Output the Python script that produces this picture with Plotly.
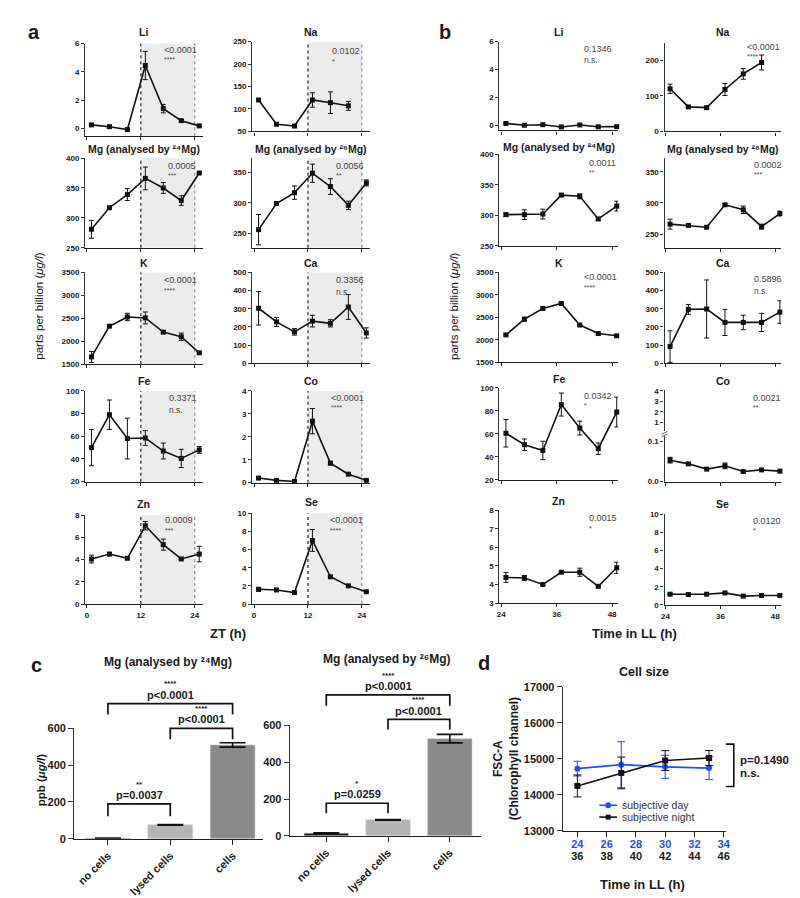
import plotly.graph_objects as go

W, H = 800, 898
FONT = "Liberation Sans, Arial, Helvetica, sans-serif"
BLUE = "#1f4cff"

# ---------------- data: panel a (ZT, LD cycle) ----------------
zt_hours = [1, 5, 9, 13, 17, 21, 25]
a_li = [0.25, 0.12, -0.08, 4.45, 1.40, 0.55, 0.18]
a_li_err = [0.05, 0.12, 0.03, 1.00, 0.30, 0.08, 0.05]
a_na = [120, 66, 62, 120, 114, 107]
a_na_err = [3, 2, 2, 16, 24, 10]
a_mg24 = [281, 317, 339, 366, 350, 329, 375]
a_mg24_err = [15, 2, 10, 19, 9, 8, 2]
a_mg26 = [256, 299, 317, 349, 327, 296, 333]
a_mg26_err = [25, 3, 11, 15, 13, 7, 5]
a_k = [1660, 2330, 2530, 2510, 2200, 2100, 1750]
a_k_err = [120, 20, 80, 130, 25, 80, 20]
a_ca = [303, 228, 173, 232, 220, 310, 167]
a_ca_err = [92, 25, 18, 32, 20, 68, 28]
a_fe = [50, 79, 58, 58.5, 47, 40.5, 48]
a_fe_err = [16, 13, 18, 6.5, 7, 8, 3]
a_co = [0.20, 0.10, 0.05, 2.68, 0.85, 0.37, 0.10]
a_co_err = [0.03, 0.02, 0.02, 0.55, 0.08, 0.03, 0.02]
a_zn = [4.05, 4.50, 4.12, 7.05, 5.35, 4.06, 4.50]
a_zn_err = [0.35, 0.15, 0.10, 0.38, 0.50, 0.05, 0.70]
a_se = [1.62, 1.55, 1.26, 7.00, 3.00, 2.00, 1.35]
a_se_err = [0.20, 0.05, 0.05, 1.20, 0.10, 0.10, 0.05]
a_pvalues = ["<0.0001", "0.0102", "0.0005", "0.0056", "<0.0001",
             "0.3356", "0.3371", "<0.0001", "0.0009", "<0.0001"]
a_stars = ["****", "*", "***", "**", "****", "n.s.", "n.s.", "****", "***", "****"]

# ---------------- data: panel b (time in LL) ----------------
ll_hours = [25, 29, 33, 37, 41, 45, 49]
b_li = [0.15, 0.02, 0.06, -0.10, 0.04, -0.09, -0.08]
b_li_err = [0.03, 0.02, 0.02, 0.02, 0.02, 0.02, 0.02]
b_na = [120, 69, 67, 118, 162, 194]
b_na_err = [13, 3, 3, 17, 15, 21]
b_mg24 = [301, 301, 302, 333, 331, 294, 315]
b_mg24_err = [3, 8, 8, 2, 4, 2, 8]
b_mg26 = [266, 264, 261, 297, 289, 262, 283]
b_mg26_err = [8, 2, 2, 2, 6, 4, 4]
b_k = [2110, 2460, 2700, 2810, 2330, 2140, 2090]
b_k_err = [20, 40, 30, 20, 10, 30, 20]
b_ca = [92, 297, 299, 225, 225, 225, 282]
b_ca_err = [87, 27, 160, 72, 40, 50, 62]
b_fe = [60.5, 50.5, 45.5, 85.5, 65, 47, 79]
b_fe_err = [12, 5, 8, 10, 6, 5, 13]
b_co = [0.053, 0.044, 0.031, 0.039, 0.025, 0.029, 0.026]
b_co_err = [0.007, 0.001, 0.001, 0.007, 0.001, 0.001, 0.001]
b_zn = [4.38, 4.35, 4.00, 4.66, 4.66, 3.90, 4.90]
b_zn_err = [0.27, 0.13, 0.03, 0.03, 0.22, 0.05, 0.30]
b_se = [1.19, 1.15, 1.19, 1.33, 0.98, 1.05, 1.05]
b_se_err = [0.05, 0.05, 0.05, 0.05, 0.05, 0.05, 0.05]
b_pvalues = ["0.1346", "<0.0001", "0.0011", "0.0002", "<0.0001",
             "0.5896", "0.0342", "0.0021", "0.0015", "0.0120"]
b_stars = ["n.s.", "****", "**", "***", "****", "n.s.", "*", "**", "*", "*"]

# ---------------- data: panel c ----------------
c_categories = ["no cells", "lysed cells", "cells"]
c_mg24 = [3, 76, 510]
c_mg24_err = [1, 2, 12]
c_mg26 = [14, 87, 528]
c_mg26_err = [3, 2, 23]
c_mg24_tests = [("p=0.0037", "**"), ("p<0.0001", "****"), ("p<0.0001", "****")]
c_mg26_tests = [("p=0.0259", "*"), ("p<0.0001", "****"), ("p<0.0001", "****")]

# ---------------- data: panel d ----------------
d_time = [24, 27, 30, 33]
d_day = [14730, 14840, 14780, 14745]
d_day_err = [205, 640, 320, 320]
d_night = [14250, 14610, 14955, 15025]
d_night_err = [305, 440, 275, 210]
d_tick_day = [24, 26, 28, 30, 32, 34]
d_tick_night = [36, 38, 40, 42, 44, 46]
d_yticks = [13000, 14000, 15000, 16000, 17000]
d_yticktext = ["13000", "14000", "15000", "16000", "17000"]

# ---------------- helpers ----------------
layout = dict(width=W, height=H, margin=dict(l=0, r=0, t=0, b=0), autosize=False,
              paper_bgcolor="white", plot_bgcolor="rgba(0,0,0,0)", showlegend=False,
              font=dict(family=FONT, color="#1a1a1a"))
ann, shp, traces = [], [], []
count = [0]


def X(px):
    return px / W


def Y(py):
    return 1 - py / H


def txt(x, y, s, size, bold=False, color="#1a1a1a", xanchor="center", yanchor="middle", angle=0):
    ann.append(dict(x=X(x), y=Y(y), xref="paper", yref="paper", text=s, showarrow=False,
                    font=dict(family=FONT, size=size, color=color, weight="bold" if bold else "normal"),
                    xanchor=xanchor, yanchor=yanchor, textangle=angle, borderpad=0))


def ptext(x, y, pval, stars):
    txt(x, y - 1, pval, 9, color="#444", xanchor="left")
    if stars == "n.s.":
        txt(x, y + 11, stars, 8.5, color="#444", xanchor="left")
    else:
        txt(x, y + 9, stars, 7, color="#444", xanchor="left")


def make_axes(xdom, ydom, xr, yr, xticks, yticks, xlabels=False, yticktext=None, xticktext=None,
              xvisible=True, tsize=8, ticklen=3, xangle=0, xcolor="#1a1a1a", xstandoff=None):
    count[0] += 1
    i = count[0]
    s = "" if i == 1 else str(i)
    tf = dict(family=FONT, size=tsize, color="#1a1a1a", weight="bold")
    xa = dict(domain=[X(xdom[0]), X(xdom[1])], range=xr, anchor="y" + s, showline=True,
              linecolor="#222", linewidth=1.3, ticks="outside", ticklen=ticklen, tickwidth=1.1,
              tickcolor="#222", tickvals=xticks, showticklabels=xlabels,
              tickfont=dict(family=FONT, size=tsize, color=xcolor, weight="bold"),
              showgrid=False, zeroline=False, visible=xvisible, fixedrange=True, tickangle=xangle)
    if xticktext is not None:
        xa["ticktext"] = xticktext
    if xstandoff is not None:
        xa["ticklabelstandoff"] = xstandoff
    ya = dict(domain=[Y(ydom[1]), Y(ydom[0])], range=yr, anchor="x" + s, showline=True,
              linecolor="#333", linewidth=1.3, ticks="outside", ticklen=ticklen, tickwidth=1.1,
              tickcolor="#333", tickvals=yticks, tickfont=tf, showgrid=False, zeroline=False,
              fixedrange=True)
    if yticktext is not None:
        ya["ticktext"] = yticktext
    layout["xaxis" + s] = xa
    layout["yaxis" + s] = ya
    return "x" + s, "y" + s


def line_trace(xa, ya, xs, ys, err, color="#111", symbol="square", size=5, cap=2.5):
    traces.append(go.Scatter(x=xs, y=ys, xaxis=xa, yaxis=ya, mode="lines+markers",
                             line=dict(color=color, width=1.6),
                             marker=dict(symbol=symbol, size=size, color=color),
                             error_y=dict(type="data", array=err, visible=True, color=color,
                                          thickness=1, width=cap),
                             cliponaxis=False, hoverinfo="skip", showlegend=False))


MG24 = "Mg (analysed by \u00b2\u2074Mg)"
MG26 = "Mg (analysed by \u00b2\u2076Mg)"

# ---------------- panel a ----------------
a_cols = {0: [74, 193], 1: [243, 362]}
a_xr = [-0.4, 25.8]
a_specs = [
    ("Li", zt_hours, a_li, a_li_err, 0, [30, 124], [-0.56, 6], [0, 2, 4, 6], 18, (153, 37)),
    ("Na", zt_hours[:6], a_na, a_na_err, 1, [28, 119], [50, 250], [50, 100, 150, 200, 250], 18, (323, 39)),
    (MG24, zt_hours, a_mg24, a_mg24_err, 0, [146, 237], [250, 400], [250, 300, 350, 400], 137, (157, 155)),
    (MG26, zt_hours, a_mg26, a_mg26_err, 1, [146, 237], [226, 374], [250, 300, 350], 137, (327, 155)),
    ("K", zt_hours, a_k, a_k_err, 0, [262, 355], [1500, 3500], [1500, 2000, 2500, 3000, 3500], 252, (153, 271)),
    ("Ca", zt_hours, a_ca, a_ca_err, 1, [262, 354], [0, 500], [0, 100, 200, 300, 400, 500], 252, (327, 271)),
    ("Fe", zt_hours, a_fe, a_fe_err, 0, [382, 474], [20, 100], [20, 40, 60, 80, 100], 372, (158, 390)),
    ("Co", zt_hours, a_co, a_co_err, 1, [382, 475], [0, 4], [0, 1, 2, 3, 4], 372, (322, 390)),
    ("Zn", zt_hours, a_zn, a_zn_err, 0, [508, 598], [0, 8], [0, 2, 4, 6, 8], 497, (154, 514)),
    ("Se", zt_hours, a_se, a_se_err, 1, [506, 598], [0, 10], [0, 2, 4, 6, 8, 10], 495, (321, 514)),
]
for k, (title, xs, ys, err, col, ydom, yr, yt, ty, ppos) in enumerate(a_specs):
    xdom = a_cols[col]
    xa, ya = make_axes(xdom, ydom, a_xr, yr, [0, 12, 24], yt, xlabels=(k >= 8))
    shp.append(dict(type="rect", xref=xa, yref=ya + " domain", x0=12, x1=24, y0=0, y1=1,
                    fillcolor="#ececec", line=dict(width=0), layer="below"))
    shp.append(dict(type="line", xref=xa, yref=ya + " domain", x0=12, x1=12, y0=0, y1=1,
                    line=dict(color="#111", width=1.1, dash="dot"), layer="below"))
    shp.append(dict(type="line", xref=xa, yref=ya + " domain", x0=24, x1=24, y0=0, y1=1,
                    line=dict(color="#888", width=1.1, dash="dot"), layer="below"))
    line_trace(xa, ya, xs, ys, err)
    txt((xdom[0] + xdom[1]) / 2, ty, title, 10.5, bold=True)
    ptext(ppos[0], ppos[1], a_pvalues[k], a_stars[k])

# ---------------- panel b ----------------
b_cols = {0: ([493, 613], [23.6, 49.3]), 1: ([660, 778], [23.8, 49.3])}
b_specs = [
    ("Li", ll_hours, b_li, b_li_err, 0, [28, 118], [-0.35, 6], [0, 2, 4, 6], 18, (578, 36)),
    ("Na", ll_hours[:6], b_na, b_na_err, 1, [29, 119], [0, 250], [0, 100, 200], 18, (742, 34)),
    (MG24, ll_hours, b_mg24, b_mg24_err, 0, [142, 235], [250, 400], [250, 300, 350, 400], 135, (583, 152)),
    (MG26, ll_hours, b_mg26, b_mg26_err, 1, [146, 237], [228, 372], [250, 300, 350], 137, (749, 154)),
    ("K", ll_hours, b_k, b_k_err, 0, [262, 353], [1500, 3500], [1500, 2000, 2500, 3000, 3500], 252, (578, 268)),
    ("Ca", ll_hours, b_ca, b_ca_err, 1, [262, 354], [0, 500], [0, 100, 200, 300, 400, 500], 252, (749, 270)),
    ("Fe", ll_hours, b_fe, b_fe_err, 0, [379, 472], [20, 100], [20, 40, 60, 80, 100], 370, (578, 388)),
    ("Co", ll_hours, b_co, b_co_err, 1, [428, 474], [0, 0.112], [0, 0.1], 372, (748, 390)),
    ("Zn", ll_hours, b_zn, b_zn_err, 0, [503, 597], [3, 8], [3, 4, 5, 6, 7, 8], 494, (583, 512)),
    ("Se", ll_hours, b_se, b_se_err, 1, [507, 599], [0, 10], [0, 2, 4, 6, 8, 10], 497, (748, 515)),
]
for k, (title, xs, ys, err, col, ydom, yr, yt, ty, ppos) in enumerate(b_specs):
    xdom, xr = b_cols[col]
    ytt = ["0.0", "0.1"] if title == "Co" else None
    xa, ya = make_axes(xdom, ydom, xr, yr, [24, 36, 48], yt, xlabels=(k >= 8), yticktext=ytt)
    line_trace(xa, ya, xs, ys, err)
    if title == "Co":
        # upper segment of the broken y axis
        xu, yu = make_axes(xdom, [381, 423], xr, [0.16, 4.1], [24, 36, 48], [1, 2, 3, 4],
                           xvisible=False)
        traces.append(go.Scatter(x=[30], y=[2], xaxis=xu, yaxis=yu, mode="markers",
                                 marker=dict(opacity=0), hoverinfo="skip", showlegend=False))
        for yy in (424.5, 427):
            shp.append(dict(type="line", xref="paper", yref="paper", x0=X(xdom[0] - 3), x1=X(xdom[0] + 3),
                            y0=Y(yy + 1.5), y1=Y(yy - 1.5), line=dict(color="#666", width=1)))
    txt((xdom[0] + xdom[1]) / 2, ty, title, 10.5, bold=True)
    ptext(ppos[0], ppos[1], b_pvalues[k], b_stars[k])

# axis titles panels a/b
txt(27, 296, "parts per billion (<i>μg/l</i>)", 11.5, angle=-90)
txt(447, 296, "parts per billion (<i>μg/l</i>)", 11.5, angle=-90)
txt(218, 628, "ZT (h)", 13, bold=True)
txt(630, 628, "Time in LL (h)", 13, bold=True)

# ---------------- panel c ----------------
bar_colors = ["#151515", "#b4b4b4", "#8a8a8a"]


def bar_panel(xdom, ydom, xr, vals, errs, title, title_xy, tests, brackets):
    yr = [0, 600]
    xa, ya = make_axes(xdom, ydom, xr, yr, [0, 1, 2], [0, 200, 400, 600], xlabels=True,
                       xticktext=c_categories, tsize=11, ticklen=5, xangle=-45)
    traces.append(go.Bar(x=[0, 1, 2], y=vals, xaxis=xa, yaxis=ya, width=0.72,
                         marker=dict(color=bar_colors, line=dict(color="#d0d0d0", width=0.6)),
                         error_y=dict(type="data", array=errs, visible=True, color="#111",
                                      thickness=1.6, width=13),
                         hoverinfo="skip", showlegend=False))

    def cx(i):
        return xdom[0] + (i - xr[0]) / (xr[1] - xr[0]) * (xdom[1] - xdom[0])

    def cy(v):
        return ydom[1] - (v - yr[0]) / (yr[1] - yr[0]) * (ydom[1] - ydom[0])

    for (i0, i1, ybar, yleg), (plabel, stars) in zip(brackets, tests):
        x0, x1, yb, yl = cx(i0), cx(i1), cy(ybar), cy(yleg)
        shp.append(dict(type="path", xref="paper", yref="paper",
                        path=f"M {X(x0)},{Y(yl)} L {X(x0)},{Y(yb)} L {X(x1)},{Y(yb)} L {X(x1)},{Y(yl)}",
                        line=dict(color="#111", width=1.7)))
        txt((x0 + x1) / 2, yb - 9, plabel, 11, bold=True)
        txt((x0 + x1) / 2, yb - 20, stars, 8, bold=True)
    txt(title_xy[0], title_xy[1], title, 12, bold=True)


bar_panel([63, 254], [724, 836], [-0.54, 2.49], c_mg24, c_mg24_err, MG24, (158, 657), c_mg24_tests,
          [(0, 1, 190, 123), (1, 2, 600, 541), (0, 2, 734, 675)])
bar_panel([281, 474], [721, 833], [-0.59, 2.5], c_mg26, c_mg26_err, MG26, (379, 654), c_mg26_tests,
          [(0, 1, 177, 123), (1, 2, 632, 578), (0, 2, 766, 707)])
txt(29, 777, "ppb (<i>μg/l</i>)", 11.5, bold=True, angle=-90)

# ---------------- panel d ----------------
d_xdom, d_xr = [557, 722], [23.0, 34.15]
xa, ya = make_axes(d_xdom, [682, 828], d_xr, [13000, 17000], d_tick_day, d_yticks,
                   xlabels=True, yticktext=d_yticktext, tsize=11, ticklen=5, xcolor=BLUE, xstandoff=-2)
# second row of tick labels (subjective night time) on an overlaid axis
shift = d_tick_night[0] - d_tick_day[0]
layout["xaxis99"] = dict(overlaying=xa, anchor="free", position=Y(845), domain=[X(d_xdom[0]), X(d_xdom[1])],
                         range=[d_xr[0] + shift, d_xr[1] + shift], tickvals=d_tick_night,
                         ticktext=[str(v) for v in d_tick_night], showline=False, ticks="",
                         showgrid=False, zeroline=False, fixedrange=True,
                         tickfont=dict(family=FONT, size=11, color="#1a1a1a", weight="bold"))
traces.append(go.Scatter(x=[40], y=[15000], xaxis="x99", yaxis=ya, mode="markers",
                         marker=dict(opacity=0), hoverinfo="skip", showlegend=False))
line_trace(xa, ya, d_time, d_day, d_day_err, color=BLUE, symbol="circle", size=6, cap=4)
line_trace(xa, ya, d_time, d_night, d_night_err, color="#111", symbol="square", size=6, cap=4)
txt(639, 667, "Cell size", 12.5, bold=True)
txt(638, 882, "Time in LL (h)", 13, bold=True)
txt(500, 755, "FSC-A<br>(Chlorophyll channel)", 12, bold=True, angle=-90)

# legend (manual)
for yy, col, sym, lab in ((802, BLUE, "circle", "subjective day"), (814, "#111", "square", "subjective night")):
    shp.append(dict(type="line", xref="paper", yref="paper", x0=X(594), x1=X(612), y0=Y(yy), y1=Y(yy),
                    line=dict(color=col, width=1.6)))
    if sym == "circle":
        shp.append(dict(type="circle", xref="paper", yref="paper", x0=X(600), x1=X(606),
                        y0=Y(yy + 3), y1=Y(yy - 3), fillcolor=col, line=dict(color=col, width=0)))
    else:
        shp.append(dict(type="rect", xref="paper", yref="paper", x0=X(600.5), x1=X(605.5),
                        y0=Y(yy + 2.5), y1=Y(yy - 2.5), fillcolor=col, line=dict(color=col, width=0)))
    txt(616, yy, lab, 10.5, color="#333", xanchor="left")

# significance bracket
shp.append(dict(type="path", xref="paper", yref="paper",
                path=f"M {X(722)},{Y(740)} L {X(730)},{Y(740)} L {X(730)},{Y(783)} L {X(722)},{Y(783)}",
                line=dict(color="#111", width=1.6)))
txt(735, 756, "p=0.1490", 11.5, bold=True, xanchor="left")
txt(735, 769, "n.s.", 11.5, bold=True, xanchor="left")

# panel letters
txt(22, 18, "a", 20, bold=True)
txt(438, 18, "b", 20, bold=True)
txt(25, 660, "c", 20, bold=True)
txt(477, 658, "d", 20, bold=True)

layout["annotations"] = ann
layout["shapes"] = shp
fig = go.Figure(data=traces, layout=layout)
fig.write_html("out.html")
